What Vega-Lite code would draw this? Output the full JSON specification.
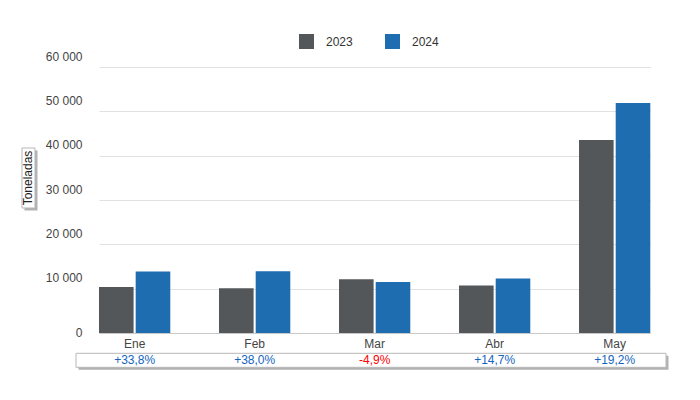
{
  "$schema": "https://vega.github.io/schema/vega-lite/v6.json",
  "width": 551.3,
  "height": 266,
  "autosize": {"type": "none"},
  "padding": {"left": 99, "top": 67, "right": 49.7, "bottom": 67},
  "background": "white",
  "config": {"font": "Liberation Sans", "view": {"stroke": null}},
  "datasets": {
    "prod": [
      {"month": "Ene", "year": "2023", "value": 10380},
      {"month": "Ene", "year": "2024", "value": 13890},
      {"month": "Feb", "year": "2023", "value": 10080},
      {"month": "Feb", "year": "2024", "value": 13910},
      {"month": "Mar", "year": "2023", "value": 12100},
      {"month": "Mar", "year": "2024", "value": 11510},
      {"month": "Abr", "year": "2023", "value": 10700},
      {"month": "Abr", "year": "2024", "value": 12270},
      {"month": "May", "year": "2023", "value": 43550},
      {"month": "May", "year": "2024", "value": 51900}
    ],
    "chg": [
      {"month": "Ene", "change": "+33,8%"},
      {"month": "Feb", "change": "+38,0%"},
      {"month": "Mar", "change": "-4,9%"},
      {"month": "Abr", "change": "+14,7%"},
      {"month": "May", "change": "+19,2%"}
    ],
    "one": [{"item": "frame"}]
  },
  "layer": [
    {
      "data": {"name": "one"},
      "layer": [
        {
          "mark": {"type": "rect", "fill": "#666666", "opacity": 0.5, "xOffset": 2.5, "x2Offset": 2.5, "yOffset": 2.5, "y2Offset": 2.5},
          "encoding": {
            "x": {"datum": -0.0417, "type": "quantitative", "scale": {"domain": [0, 1], "nice": false, "zero": false}, "axis": null},
            "x2": {"datum": 1.0285},
            "y": {"datum": -4580, "type": "quantitative", "axis": null},
            "y2": {"datum": -7740}
          }
        },
        {
          "mark": {"type": "rect", "fill": "white", "stroke": "#b8b8b8", "strokeWidth": 1},
          "encoding": {
            "x": {"datum": -0.0417, "type": "quantitative", "axis": null},
            "x2": {"datum": 1.0285},
            "y": {"datum": -4580, "type": "quantitative", "axis": null},
            "y2": {"datum": -7740}
          }
        },
        {
          "mark": {"type": "rect", "fill": "#666666", "opacity": 0.5, "xOffset": 2.5, "x2Offset": 2.5, "yOffset": 2.5, "y2Offset": 2.5},
          "encoding": {
            "x": {"datum": -0.1397, "type": "quantitative", "axis": null},
            "x2": {"datum": -0.1161},
            "y": {"datum": 41730, "type": "quantitative", "axis": null},
            "y2": {"datum": 28200}
          }
        },
        {
          "mark": {"type": "rect", "fill": "white", "stroke": "#b8b8b8", "strokeWidth": 1},
          "encoding": {
            "x": {"datum": -0.1397, "type": "quantitative", "axis": null},
            "x2": {"datum": -0.1161},
            "y": {"datum": 41730, "type": "quantitative", "axis": null},
            "y2": {"datum": 28200}
          }
        },
        {
          "mark": {"type": "text", "angle": 270, "fontSize": 12, "color": "#222", "baseline": "middle", "align": "center"},
          "encoding": {
            "x": {"datum": -0.1279, "type": "quantitative", "axis": null},
            "y": {"datum": 34965, "type": "quantitative", "axis": null},
            "text": {"value": "Toneladas"}
          }
        }
      ]
    },
    {
      "layer": [
        {
          "data": {"name": "prod"},
          "mark": {"type": "bar"},
          "encoding": {
            "x": {
              "field": "month", "type": "nominal",
              "sort": ["Ene", "Feb", "Mar", "Abr", "May"],
              "scale": {"paddingInner": 0.406, "paddingOuter": 0},
              "axis": {"title": null, "labelAngle": 0, "domain": false, "ticks": false, "grid": false,
                       "labelPadding": 5, "labelFontSize": 12, "labelColor": "#444"}
            },
            "xOffset": {"field": "year", "type": "nominal", "scale": {"paddingInner": 0.057, "paddingOuter": 0}},
            "y": {
              "field": "value", "type": "quantitative",
              "scale": {"domain": [0, 60000], "nice": false},
              "axis": {
                "title": null, "domain": false, "ticks": false, "grid": true,
                "values": [0, 10000, 20000, 30000, 40000, 50000, 60000],
                "gridColor": {"condition": {"test": "datum.value == 0", "value": "#c8c8c8"}, "value": "#e2e2e2"},
                "labelExpr": "replace(format(datum.value, ','), ',', ' ')",
                "labelPadding": 17, "labelFontSize": 12, "labelColor": "#444",
                "labelOffset": {"condition": {"test": "datum.value == 0", "value": -1}, "value": -11}
              }
            },
            "color": {
              "field": "year", "type": "nominal",
              "scale": {"domain": ["2023", "2024"], "range": ["#54575a", "#1f6db1"]},
              "legend": {
                "orient": "none", "legendX": 200, "legendY": -33, "direction": "horizontal",
                "title": null, "symbolType": "square", "symbolSize": 225, "symbolStrokeWidth": 0,
                "labelFontSize": 12, "labelColor": "#333", "labelOffset": 12, "columnPadding": 32, "padding": 0
              }
            }
          }
        },
        {
          "data": {"name": "chg"},
          "mark": {"type": "text", "fontSize": 12, "baseline": "middle"},
          "encoding": {
            "x": {"field": "month", "type": "nominal", "sort": ["Ene", "Feb", "Mar", "Abr", "May"]},
            "y": {"datum": -6100, "type": "quantitative"},
            "text": {"field": "change"},
            "color": {"condition": {"test": "indexof(datum.change, '-') == 0", "value": "#ff0000"}, "value": "#1565c0"}
          }
        }
      ]
    }
  ],
  "resolve": {"scale": {"x": "independent"}, "axis": {"y": "independent"}}
}
